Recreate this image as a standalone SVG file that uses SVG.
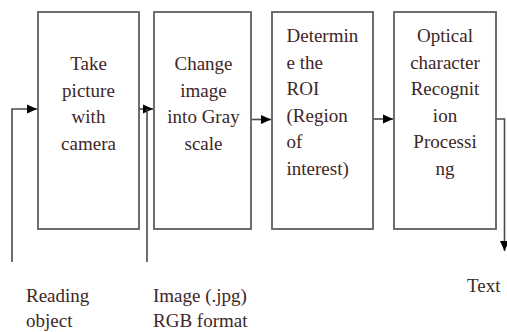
<svg xmlns="http://www.w3.org/2000/svg" width="507" height="332" viewBox="0 0 507 332">
<style>
.box{fill:#fff;stroke:#5e5e5e;stroke-width:1.8}
.ln{fill:none;stroke:#4a4a4a;stroke-width:1.6}
</style>
<defs>
<marker id="ah" viewBox="0 0 10 10" refX="10" refY="5" markerWidth="10" markerHeight="10" markerUnits="userSpaceOnUse" orient="auto">
<path d="M0,0.5 L10,5 L0,9.5 Z" fill="#000"/>
</marker>
</defs>
<rect width="507" height="332" fill="#fff"/>
<g id="connectors">
<path class="ln" d="M12,262 V109 H37" marker-end="url(#ah)"/>
<path class="ln" d="M139,109 H153" marker-end="url(#ah)"/>
<path class="ln" d="M147,262 V109"/>
<path class="ln" d="M251,119.5 H271" marker-end="url(#ah)"/>
<path class="ln" d="M373,119 H393" marker-end="url(#ah)"/>
<path class="ln" d="M496,119 H504.5 V251" marker-end="url(#ah)"/>
</g>
<g id="n1">
<rect class="box" x="38" y="12" width="101" height="217"/>
<text font-family="Liberation Serif" font-size="19" fill="#3e2626" text-anchor="middle" x="88.5" y="70">Take</text>
<text font-family="Liberation Serif" font-size="19" fill="#3e2626" text-anchor="middle" x="88.5" y="96.6">picture</text>
<text font-family="Liberation Serif" font-size="19" fill="#3e2626" text-anchor="middle" x="88.5" y="123.2">with</text>
<text font-family="Liberation Serif" font-size="19" fill="#3e2626" text-anchor="middle" x="88.5" y="149.8">camera</text>
</g>
<g id="n2">
<rect class="box" x="154" y="12" width="97" height="217"/>
<text font-family="Liberation Serif" font-size="19" fill="#3e2626" text-anchor="middle" x="203.5" y="70">Change</text>
<text font-family="Liberation Serif" font-size="19" fill="#3e2626" text-anchor="middle" x="203.5" y="96.6">image</text>
<text font-family="Liberation Serif" font-size="19" fill="#3e2626" text-anchor="middle" x="203.5" y="123.2">into Gray</text>
<text font-family="Liberation Serif" font-size="19" fill="#3e2626" text-anchor="middle" x="203.5" y="149.8">scale</text>
</g>
<g id="n3">
<rect class="box" x="272" y="12" width="101" height="217"/>
<text font-family="Liberation Serif" font-size="19" fill="#3e2626" x="286.5" y="42">Determin</text>
<text font-family="Liberation Serif" font-size="19" fill="#3e2626" x="286.5" y="68.6">e the</text>
<text font-family="Liberation Serif" font-size="19" fill="#3e2626" x="286.5" y="95.2">ROI</text>
<text font-family="Liberation Serif" font-size="19" fill="#3e2626" x="286.5" y="121.8">(Region</text>
<text font-family="Liberation Serif" font-size="19" fill="#3e2626" x="286.5" y="148.4">of</text>
<text font-family="Liberation Serif" font-size="19" fill="#3e2626" x="286.5" y="175">interest)</text>
</g>
<g id="n4">
<rect class="box" x="394" y="12" width="102" height="217"/>
<text font-family="Liberation Serif" font-size="19" fill="#3e2626" text-anchor="middle" x="445" y="42">Optical</text>
<text font-family="Liberation Serif" font-size="19" fill="#3e2626" text-anchor="middle" x="445" y="68.6">character</text>
<text font-family="Liberation Serif" font-size="19" fill="#3e2626" text-anchor="middle" x="445" y="95.2">Recognit</text>
<text font-family="Liberation Serif" font-size="19" fill="#3e2626" text-anchor="middle" x="445" y="121.8">ion</text>
<text font-family="Liberation Serif" font-size="19" fill="#3e2626" text-anchor="middle" x="445" y="148.4">Processi</text>
<text font-family="Liberation Serif" font-size="19" fill="#3e2626" text-anchor="middle" x="445" y="175">ng</text>
</g>
<g id="l1">
<text font-family="Liberation Serif" font-size="19" fill="#3e2626" x="26" y="302">Reading</text>
<text font-family="Liberation Serif" font-size="19" fill="#3e2626" x="26" y="327">object</text>
</g>
<g id="l2">
<text font-family="Liberation Serif" font-size="19" fill="#3e2626" x="153" y="302">Image (.jpg)</text>
<text font-family="Liberation Serif" font-size="19" fill="#3e2626" x="153" y="327">RGB format</text>
</g>
<g id="l3">
<text font-family="Liberation Serif" font-size="19" fill="#3e2626" x="467" y="292">Text</text>
</g>
</svg>
